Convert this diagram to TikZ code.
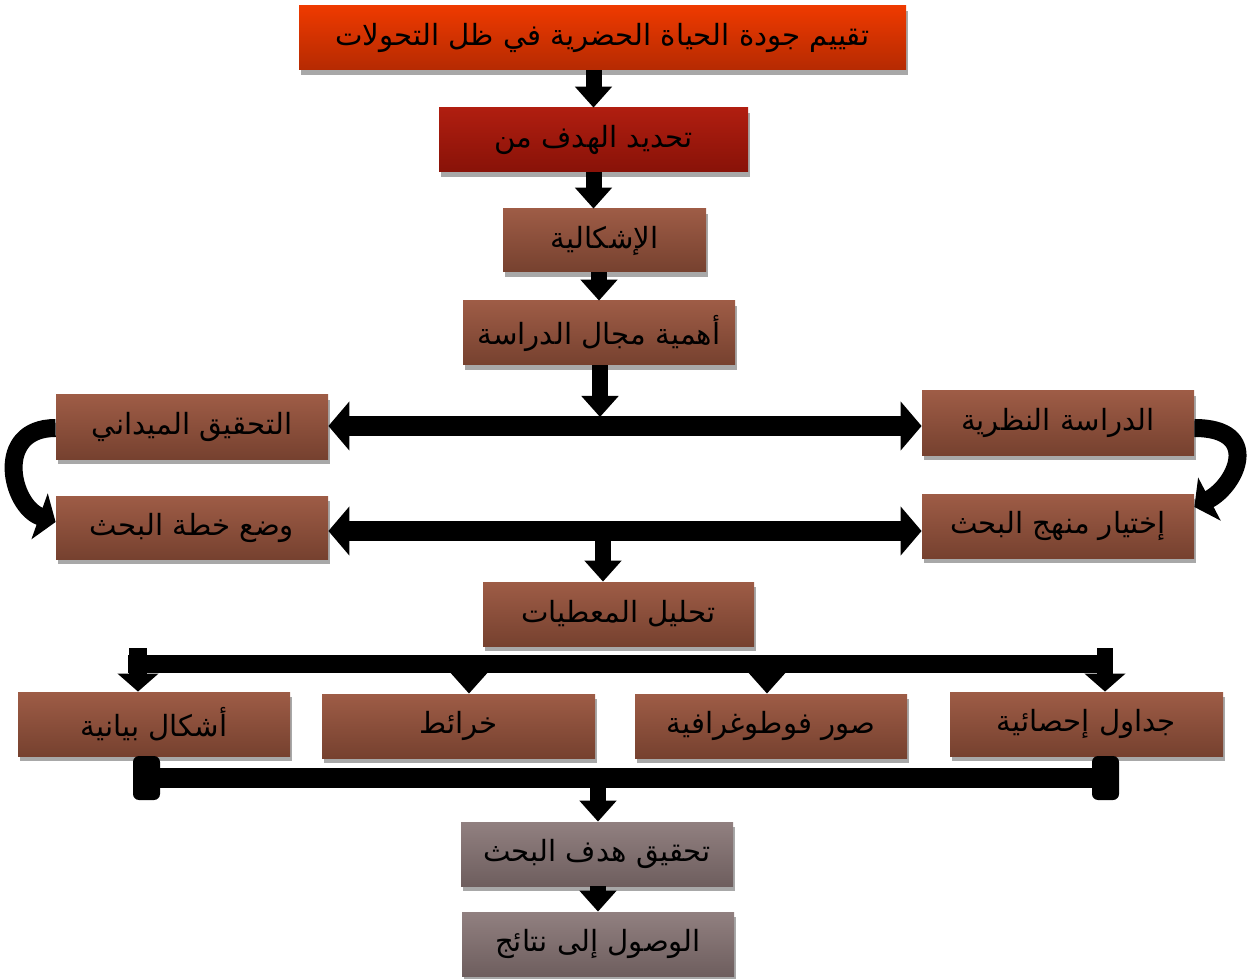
\documentclass[tikz,border=0pt]{standalone}
\usepackage{fontspec}
\newfontfamily\arabicfont[Script=Arabic]{DejaVu Sans}
\TeXXeTstate=1
\usetikzlibrary{arrows.meta,shadows}
\definecolor{shgrey}{HTML}{A8A8A8}
\definecolor{redtop}{HTML}{EE3A00}
\definecolor{redbot}{HTML}{B52A02}
\definecolor{dredtop}{HTML}{B01E10}
\definecolor{dredbot}{HTML}{881208}
\definecolor{brtop}{HTML}{9E5C46}
\definecolor{brbot}{HTML}{76412F}
\definecolor{grtop}{HTML}{918080}
\definecolor{grbot}{HTML}{6E5E5E}
\begin{document}
\begin{tikzpicture}[x=0.5pt,y=-0.5pt,
  base/.style={inner sep=0pt, minimum height=32pt,
    general shadow={fill=shgrey, shadow xshift=1pt, shadow yshift=-2.5pt},
    font=\arabicfont\fontsize{14.6}{16}\selectfont, text=black},
  redbox/.style={base, top color=redtop, bottom color=redbot},
  dredbox/.style={base, top color=dredtop, bottom color=dredbot},
  brbox/.style={base, top color=brtop, bottom color=brbot},
  grbox/.style={base, top color=grtop, bottom color=grbot},
  blk/.style={line width=8pt, -{Triangle[width=18pt,length=10.5pt]}},
  dbl/.style={line width=10pt, {Triangle[width=24pt,length=10.5pt]}-{Triangle[width=24pt,length=10.5pt]}},
  crv/.style={line width=9pt, -{Triangle[width=24pt,length=8.5pt]}},
  endcap/.style={fill=black, rounded corners=3pt, minimum width=13.5pt, minimum height=22pt, inner sep=0pt}
]
\useasboundingbox (0,0) rectangle (1250,979);
% boxes
\node[redbox, minimum width=303.5pt] (b1) at (602.5,38) {\beginR تقييم جودة الحياة الحضرية في ظل التحولات\endR};
\node[dredbox, minimum width=154.5pt] (b2) at (593.5,140) {\beginR تحديد الهدف من\endR};
\node[brbox, minimum width=101.5pt, minimum height=31.5pt] (b3) at (604.5,240.5) {\beginR الإشكالية\endR};
\node[brbox, minimum width=136pt] (b4) at (599,333) {\beginR أهمية مجال الدراسة\endR};
\node[brbox, minimum width=136pt] (b5) at (192,427) {\beginR التحقيق الميداني\endR};
\node[brbox, minimum width=136pt] (b6) at (1058,423) {\beginR الدراسة النظرية\endR};
\node[brbox, minimum width=136pt, minimum height=31.5pt] (b7) at (192,527.5) {\beginR وضع خطة البحث\endR};
\node[brbox, minimum width=136pt] (b8) at (1058,526) {\beginR إختيار منهج البحث\endR};
\node[brbox, minimum width=135.5pt] (b9) at (618.5,614) {\beginR تحليل المعطيات\endR};
\node[brbox, minimum width=136pt] (ba) at (154,724) {\beginR أشكال بيانية\endR};
\node[brbox, minimum width=136.5pt] (bb) at (458.5,726) {\beginR خرائط\endR};
\node[brbox, minimum width=136pt] (bc) at (771,726) {\beginR صور فوطوغرافية\endR};
\node[brbox, minimum width=136.5pt] (bd) at (1086.5,724) {\beginR جداول إحصائية\endR};
\node[grbox, minimum width=136pt] (bx) at (597,854) {\beginR تحقيق هدف البحث\endR};
\node[grbox, minimum width=136pt] (by) at (598,944) {\beginR الوصول إلى نتائج\endR};
% straight arrows
\draw[blk] (b2.north |- b1.south) -- (b2.north);
\draw[blk] (b2.south) -- (b2.south |- b3.north);
\draw[blk] (b4.north |- b3.south) -- (b4.north);
\coordinate (u1) at (600,417);
\draw[blk] (u1 |- b4.south) -- (u1);
\draw[dbl] (b5.east |- 0,426) -- (b6.west |- 0,426);
\draw[dbl] (b7.east |- 0,531) -- (b8.west |- 0,531);
\coordinate (l1) at (603,540);
\draw[blk] (l1) -- (l1 |- b9.north);
% curved arrows
\draw[crv] (b5.west |- 0,428) .. controls +(-62,0) and +(-45,-16) .. (b7.west |- 0,522);
\draw[crv] (b6.east |- 0,428) .. controls +(68,0) and +(42,-22) .. (b8.east |- 0,507);
% branching bar
\coordinate (bl) at (138,664);
\coordinate (brr) at (1105,664);
\coordinate (tl) at (138,648);
\coordinate (tr) at (1105,648);
\coordinate (m1) at (469,672);
\coordinate (m2) at (767,672);
\draw[line width=9pt] ([xshift=-5pt]bl) -- ([xshift=4pt]brr);
\draw[line width=9pt, -{Triangle[width=20pt,length=9pt]}] (tl) -- (tl |- ba.north);
\draw[line width=8pt, -{Triangle[width=20pt,length=9pt]}] (tr) -- (tr |- bd.north);
\draw[blk] (m1) -- (m1 |- bb.north);
\draw[blk] (m2) -- (m2 |- bc.north);
% collector bar
\node[endcap] (cl) at (146.5,778) {};
\node[endcap] (cr) at (1105.5,778) {};
\draw[line width=10pt] (cl.center) -- (cr.center);
\coordinate (c1) at (598,788);
\draw[blk] (c1) -- (c1 |- bx.north);
\draw[blk] (by.north |- bx.south) -- (by.north);
\end{tikzpicture}
\end{document}
